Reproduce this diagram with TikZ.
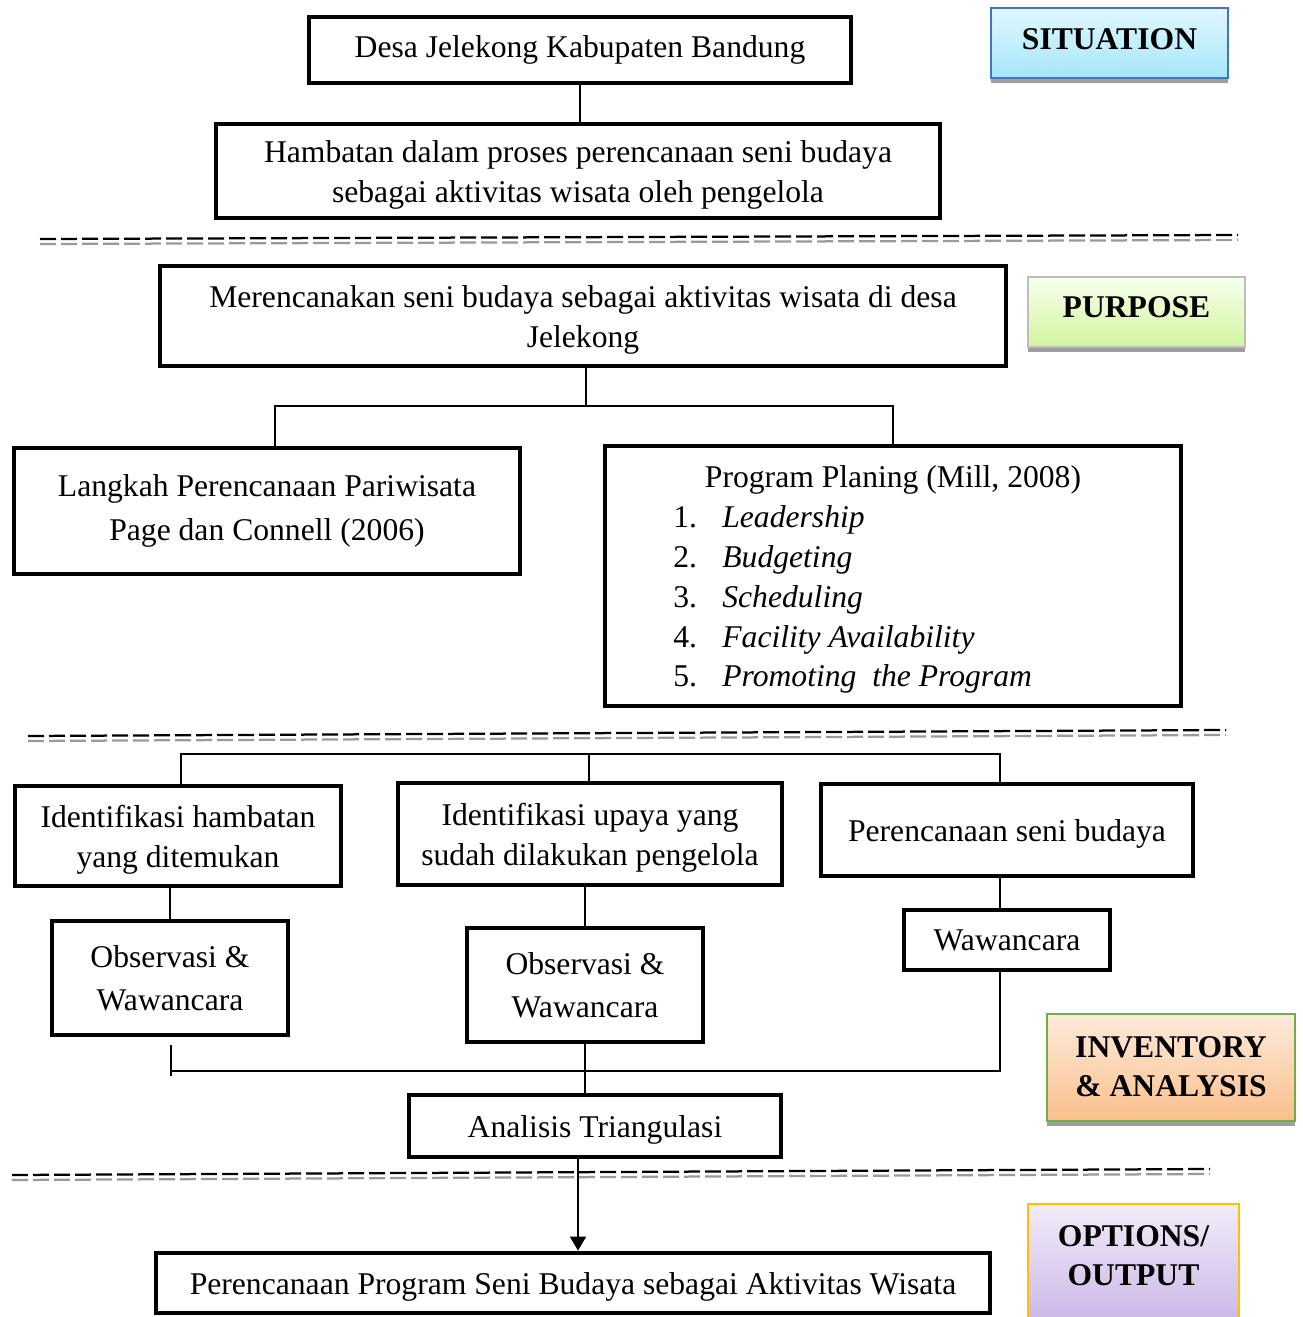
\documentclass[tikz,border=0pt]{standalone}
\usepackage{fontspec}
\setmainfont{Liberation Serif}
\usetikzlibrary{arrows.meta,shadows}
\definecolor{sitline}{HTML}{4472C4}
\definecolor{sittop}{HTML}{E2F8FF}
\definecolor{sitbot}{HTML}{A4E6FA}
\definecolor{purline}{HTML}{BDBDBD}
\definecolor{purtop}{HTML}{F8FFEE}
\definecolor{purbot}{HTML}{D3F59E}
\definecolor{invline}{HTML}{70AD47}
\definecolor{invtop}{HTML}{FDEBDC}
\definecolor{invbot}{HTML}{FBBF8C}
\definecolor{optline}{HTML}{FFC000}
\definecolor{opttop}{HTML}{F2ECF8}
\definecolor{optbot}{HTML}{CBB6E8}
\newcommand{\toplift}{\rule{0pt}{16.5pt}}
\begin{document}
\begin{tikzpicture}[x=0.2mm,y=-0.2mm,
  box/.style={draw,line width=0.85mm,align=center,inner sep=0pt,
    font=\fontsize{18}{22.7}\selectfont},
  lowtext/.style={execute at begin node={\toplift}},
  tag/.style={line width=0.4mm,align=center,inner sep=0pt,
    font=\fontsize{18}{22.2}\selectfont\bfseries,
    drop shadow={shadow xshift=0mm,shadow yshift=-1mm,fill=black!38,opacity=1}},
  raise/.style={execute at end node={\rule[-#1]{0pt}{#1}}},
  link/.style={line width=0.3mm},
  sepline/.style={line width=0.45mm,dash pattern=on 3.2mm off 1mm}]
\useasboundingbox (0,0) rectangle (1302,1317);

% situation
\node[box,minimum width=108.5mm,minimum height=13.1mm] (desa) at (580,50)
  {Desa Jelekong Kabupaten Bandung};
\node[box,minimum width=144.9mm,minimum height=18.9mm] (ham) at (578,171)
  {\toplift Hambatan dalam proses perencanaan seni budaya\\sebagai aktivitas wisata oleh pengelola};
\draw[link] (desa.south) -- (desa.south |- ham.north);

\draw[sepline,black!40] (40,244) -- (1238,240);
\draw[sepline] (40,239) -- (1238,235);

% purpose
\node[box,minimum width=169.1mm,minimum height=20.1mm] (mer) at (583,316)
  {\toplift Merencanakan seni budaya sebagai aktivitas wisata di desa\\Jelekong};
\node[box,minimum width=101.3mm,minimum height=25.1mm] (lang) at (267,511)
  {Langkah Perencanaan Pariwisata\\[2pt]Page dan Connell (2006)};
\node[box,minimum width=115.3mm,minimum height=52.1mm] (prog) at (893,576) {};
\node[font=\fontsize{18}{22.7}\selectfont,inner sep=0pt] (progt) at (893,480)
  {Program Planing (Mill, 2008)};
\node[font=\fontsize{18}{22.7}\selectfont,inner sep=0pt,anchor=west,align=left] (progl) at (673,599.5)
  {\makebox[9.8mm][l]{1.}\textit{Leadership}\\
   \makebox[9.8mm][l]{2.}\textit{Budgeting}\\
   \makebox[9.8mm][l]{3.}\textit{Scheduling}\\
   \makebox[9.8mm][l]{4.}\textit{Facility Availability}\\
   \makebox[9.8mm][l]{5.}\textit{Promoting\ \ the Program}};
\coordinate (m1) at (586,406);
\draw[link] (mer.south -| m1) -- (m1);
\draw[link] ([xshift=1.6mm]lang.north) |- (m1) -| (prog.north);

\draw[sepline,black!40] (28,741) -- (1226,735);
\draw[sepline] (28,736) -- (1226,730);

% inventory & analysis
\node[box,minimum width=65.3mm,minimum height=19.9mm] (idh) at (178,836)
  {\toplift Identifikasi hambatan\\yang ditemukan};
\node[box,minimum width=76.7mm,minimum height=20.5mm] (idu) at (590,834)
  {\toplift Identifikasi upaya yang\\sudah dilakukan pengelola};
\node[box,lowtext,minimum width=74.5mm,minimum height=18.5mm] (per) at (1007,830)
  {Perencanaan seni budaya};
\node[box,minimum width=47.3mm,minimum height=22.9mm] (obs1) at (170,978)
  {Observasi \&\\[2pt]Wawancara};
\node[box,minimum width=47.3mm,minimum height=22.9mm] (obs2) at (585,985)
  {Observasi \&\\[2pt]Wawancara};
\node[box,minimum width=41.1mm,minimum height=12.1mm] (waw) at (1007,940)
  {Wawancara};
\node[box,lowtext,minimum width=74.3mm,minimum height=12.3mm] (ana) at (595,1126)
  {Analisis Triangulasi};
\coordinate (t1) at (181,754);
\coordinate (t2) at (589,754);
\coordinate (t3) at (1000,754);
\draw[link] (idh.north -| t1) -- (t1) -- (t3) -- (per.north -| t3);
\draw[link] (t2) -- (idu.north -| t2);
\draw[link] (idh.south -| obs1.north) -- (obs1.north);
\draw[link] (idu.south -| obs2.north) -- (obs2.north);
\draw[link] (per.south -| t3) -- (waw.north -| t3);
\coordinate (b0) at (171,1045);
\coordinate (b4) at (171,1076);
\coordinate (b1) at (171,1071);
\coordinate (b3) at (1000,1071);
\draw[link] (b0) -- (b4);
\draw[link] (waw.south -| b3) -- (b3) -- (b1);
\draw[link] (obs2.south) -- (obs2.south |- ana.north);

\draw[sepline,black!40] (12,1180) -- (1210,1174);
\draw[sepline] (12,1175) -- (1210,1169);

% options / output
\node[box,lowtext,minimum width=166.7mm,minimum height=12.1mm] (out) at (573,1283)
  {Perencanaan Program Seni Budaya sebagai Aktivitas Wisata};
\coordinate (a1) at (578,0);
\draw[link,-{Triangle[width=3.2mm,length=2.8mm]}] (ana.south -| a1) -- (out.north -| a1);

% stage tags
\node[tag,raise=4.5pt,draw=sitline,top color=sittop,bottom color=sitbot,
  minimum width=47.4mm,minimum height=14mm] (sit) at (1109.5,43) {SITUATION};
\node[tag,raise=5.5pt,draw=purline,top color=purtop,bottom color=purbot,
  minimum width=43.4mm,minimum height=14mm] (pur) at (1136.5,312) {PURPOSE};
\node[tag,draw=invline,top color=invtop,bottom color=invbot,
  minimum width=49.6mm,minimum height=21.4mm] (inv) at (1171,1067) {INVENTORY\\\& ANALYSIS};
\node[tag,raise=10pt,draw=optline,top color=opttop,bottom color=optbot,
  minimum width=42.2mm,minimum height=24mm] (opt) at (1133.5,1264) {OPTIONS/\\OUTPUT};
\end{tikzpicture}
\end{document}
